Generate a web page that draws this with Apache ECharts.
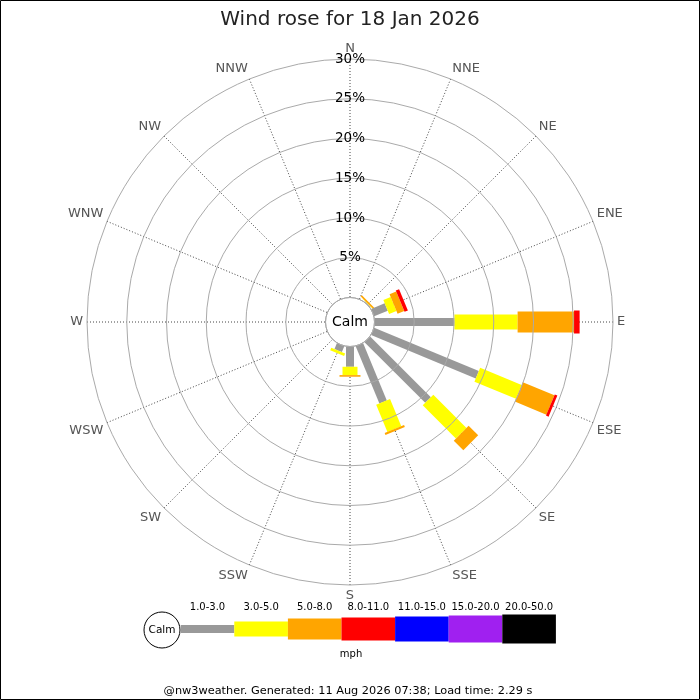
<!DOCTYPE html>
<html>
<head>
<meta charset="utf-8">
<title>Wind rose</title>
<script src="https://cdn.jsdelivr.net/npm/echarts@6/dist/echarts.min.js"></script>
<style>
  html, body { margin: 0; padding: 0; background: #fff; }
  #chart { width: 700px; height: 700px; }
</style>
</head>
<body>
<div id="chart"></div>
<script>
// 16 compass points, clockwise from north
const directions = ["N", "NNE", "NE", "ENE", "E", "ESE", "SE", "SSE",
  "S", "SSW", "SW", "WSW", "W", "WNW", "NW", "NNW"];

// speed bands (mph) and their colours
const bandLabels = ["1.0-3.0", "3.0-5.0", "5.0-8.0", "8.0-11.0", "11.0-15.0", "15.0-20.0", "20.0-50.0"];
const bandColors = ["#999999", "#ffff00", "#ffa500", "#ff0000", "#0000ff", "#a020f0", "#000000"];

// percentage of time per direction, one array per band
const band1to3 = [0, 0, 0.1, 1.85, 10.05, 14.25, 10.8, 7.8, 2.55, 0.8, 0, 0, 0, 0, 0, 0];
const band3to5 = [0, 0, 0.05, 1.0, 7.95, 5.65, 5.9, 3.7, 1.05, 0.35, 0, 0, 0, 0, 0, 0];
const band5to8 = [0, 0, 0.2, 0.9, 7.1, 4.3, 1.7, 0.25, 0.2, 0, 0, 0, 0, 0, 0, 0];
const band8to11 = [0, 0, 0, 0.45, 0.7, 0.35, 0, 0, 0, 0, 0, 0, 0, 0, 0, 0];
const band11to15 = [0, 0, 0, 0, 0, 0, 0, 0, 0, 0, 0, 0, 0, 0, 0, 0];
const band15to20 = [0, 0, 0, 0, 0, 0, 0, 0, 0, 0, 0, 0, 0, 0, 0, 0];
const band20to50 = [0, 0, 0, 0, 0, 0, 0, 0, 0, 0, 0, 0, 0, 0, 0, 0];
const bands = [band1to3, band3to5, band5to8, band8to11, band11to15, band15to20, band20to50];

const radiusTicks = [0, 5, 10, 15, 20, 25, 30];

// bar thickness per band (px), also used for the key
const barWidths = [8, 15, 21, 23, 25, 27, 29];

const FONT = "DejaVu Sans";
const cx = 350, cy = 322;

// stacked segments: [end, angle, start, band]
const segments = [];
directions.forEach(function (d, i) {
  let acc = 0;
  bands.forEach(function (b, k) {
    if (b[i] > 0) {
      segments.push([acc + b[i], i * 22.5, acc, k]);
      acc += b[i];
    }
  });
});

function renderSegment(params, api) {
  const ang = api.value(1);
  const end = api.value(0), start = api.value(2), k = api.value(3);
  const c = api.coord([0, ang]);
  const f = api.coord([30, ang]);
  const a = api.coord([start, ang]);
  const b = api.coord([end, ang]);
  let ux = f[0] - c[0], uy = f[1] - c[1];
  const len = Math.sqrt(ux * ux + uy * uy);
  ux /= len; uy /= len;
  const hw = barWidths[k] / 2;
  const nx = -uy * hw, ny = ux * hw;
  return {
    type: "polygon",
    shape: {
      points: [
        [a[0] + nx, a[1] + ny], [b[0] + nx, b[1] + ny],
        [b[0] - nx, b[1] - ny], [a[0] - nx, a[1] - ny]
      ]
    },
    style: { fill: bandColors[k] }
  };
}

// key along the bottom
const keyX0 = 180.7, keyW = 53.6, keyY = 629;
const keyItems = [
  { type: "circle", shape: { cx: 162, cy: 630, r: 18 }, style: { fill: "#fff", stroke: "#000", lineWidth: 1 } },
  { type: "text", x: 162, y: 630, style: { text: "Calm", font: "10.5px " + FONT, fill: "#000", align: "center", verticalAlign: "middle" } },
  { type: "text", x: 351, y: 654, style: { text: "mph", font: "10px " + FONT, fill: "#000", align: "center", verticalAlign: "middle" } }
];
bandLabels.forEach(function (lab, k) {
  keyItems.push({
    type: "rect",
    shape: { x: keyX0 + k * keyW, y: keyY - barWidths[k] / 2, width: keyW, height: barWidths[k] },
    style: { fill: bandColors[k] }
  });
  keyItems.push({
    type: "text", x: keyX0 + k * keyW + keyW / 2, y: 607,
    style: { text: lab, font: "10px " + FONT, fill: "#000", align: "center", verticalAlign: "middle" }
  });
});

const chart = echarts.init(document.getElementById("chart"));
chart.setOption({
  animation: false,
  backgroundColor: "#fff",
  title: {
    text: "Wind rose for 18 Jan 2026",
    left: "center",
    top: 5,
    textStyle: { fontFamily: FONT, fontSize: 20, fontWeight: "normal", color: "#222" }
  },
  polar: { center: [cx, cy], radius: [24.5, 263] },
  angleAxis: {
    type: "value",
    min: 0,
    max: 360,
    interval: 22.5,
    startAngle: 90,
    clockwise: true,
    axisLine: { show: false },
    axisTick: { show: false },
    axisLabel: {
      margin: 4,
      color: "#555",
      fontFamily: FONT,
      fontSize: 13,
      formatter: function (v) {
        return v >= 360 ? "" : directions[Math.round(v / 22.5) % 16];
      }
    },
    splitLine: { show: true, lineStyle: { color: "#444", width: 1, type: [1, 2] } }
  },
  radiusAxis: {
    type: "value",
    min: radiusTicks[0],
    max: radiusTicks[radiusTicks.length - 1],
    interval: radiusTicks[1] - radiusTicks[0],
    axisLine: { show: false },
    axisTick: { show: false },
    axisLabel: {
      showMinLabel: false,
      margin: 0,
      align: "center",
      verticalAlign: "middle",
      color: "#000",
      fontFamily: FONT,
      fontSize: 13.5,
      formatter: "{value}%"
    },
    splitLine: { show: true, lineStyle: { color: "#aaa", width: 1 } },
    z: 5
  },
  series: [{
    type: "custom",
    coordinateSystem: "polar",
    renderItem: renderSegment,
    data: segments,
    z: 3
  }],
  graphic: [
    { type: "rect", shape: { x: 0.5, y: 0.5, width: 699, height: 699 }, style: { fill: null, stroke: "#000", lineWidth: 1 }, z: 10 },
    {
      type: "circle", shape: { cx: cx, cy: cy, r: 24.5 }, z: 4,
      style: { fill: "#fff", stroke: "#aaa", lineWidth: 1 }
    },
    {
      type: "text", x: cx, y: cy, z: 5,
      style: { text: "Calm", font: "14px " + FONT, fill: "#000", align: "center", verticalAlign: "middle" }
    },
    {
      type: "text", x: 348, y: 691,
      style: { text: "@nw3weather. Generated: 11 Aug 2026 07:38; Load time: 2.29 s", font: "11.3px " + FONT, fill: "#000", align: "center", verticalAlign: "middle" }
    },
    { type: "group", children: keyItems }
  ]
});
</script>
</body>
</html>
